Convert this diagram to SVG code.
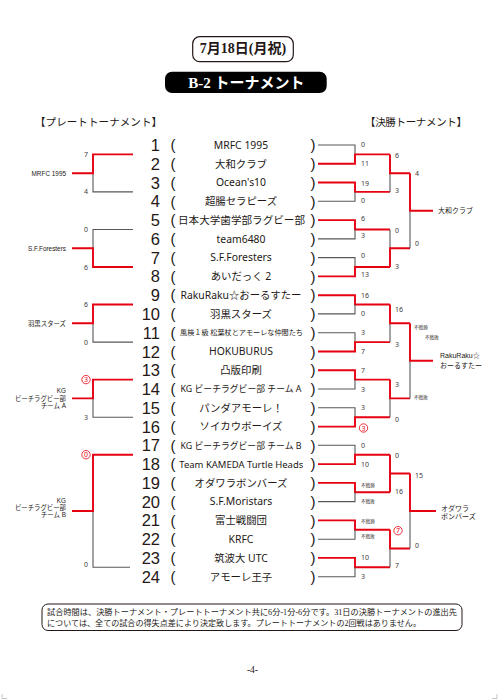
<svg xmlns="http://www.w3.org/2000/svg" width="499" height="700" viewBox="0 0 499 700">
<style>
text{font-family:"Noto Sans","Noto Sans CJK JP",sans-serif;fill:#231815}
.num{font-family:"Liberation Sans","Noto Sans",sans-serif;font-size:16.5px;text-anchor:end}
.par{font-family:"Liberation Sans","Noto Sans",sans-serif;font-size:15px;text-anchor:middle}
.nm{font-size:10.4px;text-anchor:middle}
.nm7{font-size:7px}
.nm86{font-size:8.8px}
.nm96{font-size:9.6px}
.sc{font-size:7px;fill:#3e3a39}
.scm{font-size:7px;fill:#3e3a39;text-anchor:middle}
.tiny{font-size:4.6px;fill:#3e3a39}
.lbl{font-family:"Liberation Sans","Noto Sans CJK JP",sans-serif;font-size:7px}
.lbr{font-family:"Liberation Sans","Noto Sans CJK JP",sans-serif;font-size:6.4px;text-anchor:end}
.hd{font-size:10.5px}
.serif{font-family:"Liberation Serif","Noto Sans CJK JP",serif}
.red{fill:#e60012}
.rl{fill:none;stroke:#e60012;stroke-width:1.9}
.bl{fill:none;stroke:#595757;stroke-width:1.1}
.circ{fill:none;stroke:#e60012;stroke-width:0.8}
</style>

<g id="header">
  <rect x="192.7" y="36.7" width="100.6" height="25" rx="7" fill="#fff" stroke="#231815" stroke-width="1.2"/>
  <text class="serif" x="243" y="53.3" font-size="14" font-weight="bold" text-anchor="middle">7月18日(月祝)</text>
  <rect x="165" y="71.7" width="161.7" height="21.3" rx="7" fill="#000"/>
  <text class="serif" x="246.5" y="88" font-size="15" font-weight="bold" text-anchor="middle" style="fill:#fff">B-2 トーナメント</text>
</g>

<g id="titles">
  <text class="hd" x="35" y="125.5" textLength="127">【プレートトーナメント】</text>
  <text class="hd" x="365" y="125.5" textLength="102">【決勝トーナメント】</text>
</g>

<g id="teams">
  <g id="team-1"><text class="num" x="160" y="151">1</text><text class="par" x="173" y="150.2">(</text><text class="nm" x="241" y="148.8">MRFC 1995</text><text class="par" x="313" y="150.2">)</text></g>
  <g id="team-2"><text class="num" x="160" y="169.8">2</text><text class="par" x="173" y="169">(</text><text class="nm" x="241" y="167.6">大和クラブ</text><text class="par" x="313" y="169">)</text></g>
  <g id="team-3"><text class="num" x="160" y="188.5">3</text><text class="par" x="173" y="187.7">(</text><text class="nm" x="241" y="186.3">Ocean's10</text><text class="par" x="313" y="187.7">)</text></g>
  <g id="team-4"><text class="num" x="160" y="207.3">4</text><text class="par" x="173" y="206.5">(</text><text class="nm" x="241" y="205.1">超腸セラピーズ</text><text class="par" x="313" y="206.5">)</text></g>
  <g id="team-5"><text class="num" x="160" y="226.1">5</text><text class="par" x="173" y="225.3">(</text><text class="nm" x="241.5" y="223.9" textLength="127" lengthAdjust="spacingAndGlyphs">日本大学歯学部ラグビー部</text><text class="par" x="313" y="225.3">)</text></g>
  <g id="team-6"><text class="num" x="160" y="244.9">6</text><text class="par" x="173" y="244.1">(</text><text class="nm" x="241" y="242.7">team6480</text><text class="par" x="313" y="244.1">)</text></g>
  <g id="team-7"><text class="num" x="160" y="263.6">7</text><text class="par" x="173" y="262.8">(</text><text class="nm" x="241" y="261.4">S.F.Foresters</text><text class="par" x="313" y="262.8">)</text></g>
  <g id="team-8"><text class="num" x="160" y="282.4">8</text><text class="par" x="173" y="281.6">(</text><text class="nm" x="241" y="280.2">あいだっく 2</text><text class="par" x="313" y="281.6">)</text></g>
  <g id="team-9"><text class="num" x="160" y="301.2">9</text><text class="par" x="173" y="300.4">(</text><text class="nm" x="241" y="299" textLength="121" lengthAdjust="spacingAndGlyphs">RakuRaku☆おーるすたー</text><text class="par" x="313" y="300.4">)</text></g>
  <g id="team-10"><text class="num" x="160" y="319.9">10</text><text class="par" x="173" y="319.1">(</text><text class="nm" x="241" y="317.7">羽黒スターズ</text><text class="par" x="313" y="319.1">)</text></g>
  <g id="team-11"><text class="num" x="160" y="338.7">11</text><text class="par" x="173" y="337.9">(</text><text class="nm nm7" x="241.5" y="335.3" textLength="123" lengthAdjust="spacingAndGlyphs">風検１級 松葉杖とアモーレな仲間たち</text><text class="par" x="313" y="337.9">)</text></g>
  <g id="team-12"><text class="num" x="160" y="357.5">12</text><text class="par" x="173" y="356.7">(</text><text class="nm" x="241" y="355.3">HOKUBURUS</text><text class="par" x="313" y="356.7">)</text></g>
  <g id="team-13"><text class="num" x="160" y="376.2">13</text><text class="par" x="173" y="375.4">(</text><text class="nm" x="241" y="374">凸版印刷</text><text class="par" x="313" y="375.4">)</text></g>
  <g id="team-14"><text class="num" x="160" y="395">14</text><text class="par" x="173" y="394.2">(</text><text class="nm nm86" x="241" y="392.3" textLength="121" lengthAdjust="spacingAndGlyphs">KG ビーチラグビー部 チーム A</text><text class="par" x="313" y="394.2">)</text></g>
  <g id="team-15"><text class="num" x="160" y="413.8">15</text><text class="par" x="173" y="413">(</text><text class="nm" x="241" y="411.6">パンダアモーレ！</text><text class="par" x="313" y="413">)</text></g>
  <g id="team-16"><text class="num" x="160" y="432.6">16</text><text class="par" x="173" y="431.8">(</text><text class="nm" x="241" y="430.4">ソイカウボーイズ</text><text class="par" x="313" y="431.8">)</text></g>
  <g id="team-17"><text class="num" x="160" y="451.3">17</text><text class="par" x="173" y="450.5">(</text><text class="nm nm86" x="241" y="448.6" textLength="121" lengthAdjust="spacingAndGlyphs">KG ビーチラグビー部 チーム B</text><text class="par" x="313" y="450.5">)</text></g>
  <g id="team-18"><text class="num" x="160" y="470.1">18</text><text class="par" x="173" y="469.3">(</text><text class="nm nm96" x="241.3" y="467.6" textLength="124" lengthAdjust="spacingAndGlyphs">Team KAMEDA Turtle Heads</text><text class="par" x="313" y="469.3">)</text></g>
  <g id="team-19"><text class="num" x="160" y="488.9">19</text><text class="par" x="173" y="488.1">(</text><text class="nm" x="241" y="486.7">オダワラボンバーズ</text><text class="par" x="313" y="488.1">)</text></g>
  <g id="team-20"><text class="num" x="160" y="507.6">20</text><text class="par" x="173" y="506.8">(</text><text class="nm" x="241" y="505.4">S.F.Moristars</text><text class="par" x="313" y="506.8">)</text></g>
  <g id="team-21"><text class="num" x="160" y="526.4">21</text><text class="par" x="173" y="525.6">(</text><text class="nm" x="241" y="524.2">富士戦闘団</text><text class="par" x="313" y="525.6">)</text></g>
  <g id="team-22"><text class="num" x="160" y="545.2">22</text><text class="par" x="173" y="544.4">(</text><text class="nm" x="241" y="543">KRFC</text><text class="par" x="313" y="544.4">)</text></g>
  <g id="team-23"><text class="num" x="160" y="563.9">23</text><text class="par" x="173" y="563.1">(</text><text class="nm" x="241" y="561.7">筑波大 UTC</text><text class="par" x="313" y="563.1">)</text></g>
  <g id="team-24"><text class="num" x="160" y="582.7">24</text><text class="par" x="173" y="581.9">(</text><text class="nm" x="241" y="580.5">アモーレ王子</text><text class="par" x="313" y="581.9">)</text></g>
</g>

<g id="connectors">
  <!-- final tournament, round 1 -->
  <path class="bl" d="M318,145H355V154.4"/>
  <path class="rl" d="M318,163.8H355V154.4H390"/>
  <path class="rl" d="M318,182.5H355V191.9H390"/>
  <path class="bl" d="M318,201.3H355V191.9"/>
  <path class="rl" d="M318,220.1H355V229.5H390"/>
  <path class="bl" d="M318,238.9H355V229.5"/>
  <path class="bl" d="M318,257.6H355V267"/>
  <path class="rl" d="M318,276.4H355V267H390"/>
  <path class="rl" d="M318,295.2H355V304.5H390"/>
  <path class="bl" d="M318,313.9H355V304.5"/>
  <path class="bl" d="M318,332.7H355V342.1"/>
  <path class="rl" d="M318,351.5H355V342.1H390"/>
  <path class="rl" d="M318,370.2H355V379.6H390"/>
  <path class="bl" d="M318,389H355V379.6"/>
  <path class="bl" d="M318,407.8H355V417.2"/>
  <path class="rl" d="M318,426.6H355V417.2H390"/>
  <path class="bl" d="M318,445.3H355V454.7"/>
  <path class="rl" d="M318,464.1H355V454.7H390"/>
  <path class="rl" d="M318,482.9H355V492.2H390"/>
  <path class="bl" d="M318,501.6H355V492.2"/>
  <path class="rl" d="M318,520.4H355V529.8H390"/>
  <path class="bl" d="M318,539.2H355V529.8"/>
  <path class="rl" d="M318,557.9H355V567.3H390"/>
  <path class="bl" d="M318,576.7H355V567.3"/>
  <!-- round 2 -->
  <path class="bl" d="M390,173.2V191.9"/>
  <path class="rl" d="M390,154.4V173.2H410"/>
  <path class="bl" d="M390,229.5V248.2"/>
  <path class="rl" d="M390,267V248.2H410"/>
  <path class="bl" d="M390,323.3V342.1"/>
  <path class="rl" d="M390,304.5V323.3H410"/>
  <path class="bl" d="M390,398.4V417.2"/>
  <path class="rl" d="M390,379.6V398.4H410"/>
  <path class="rl" d="M390,454.7V492.2M390,473.5H410"/>
  <path class="bl" d="M390,548.5V567.3"/>
  <path class="rl" d="M390,529.8V548.5H410"/>
  <!-- round 3 -->
  <path class="bl" d="M410,210.7V248.2"/>
  <path class="rl" d="M410,173.2V210.7H433"/>
  <path class="bl" d="M410,360.8V398.4"/>
  <path class="rl" d="M410,323.3V360.8H433"/>
  <path class="bl" d="M410,511V548.5"/>
  <path class="rl" d="M410,473.5V511H436"/>
  <!-- plate tournament -->
  <path class="bl" d="M133,191.9H93V173.2"/>
  <path class="rl" d="M133,154.4H93V173.2H72"/>
  <path class="bl" d="M133,229.5H93V248.2"/>
  <path class="rl" d="M133,267H93V248.2H72"/>
  <path class="bl" d="M133,342.1H93V323.3"/>
  <path class="rl" d="M133,304.5H93V323.3H72"/>
  <path class="bl" d="M133,417.2H93V398.4"/>
  <path class="rl" d="M133,379.6H93V398.4H72"/>
  <path class="bl" d="M130,567.3H93V511"/>
  <path class="rl" d="M133,454.7H93V511H72"/>
</g>

<g id="scores">
  <!-- plate -->
  <text class="scm" x="86" y="157">7</text>
  <text class="scm" x="86" y="194.4">4</text>
  <text class="scm" x="86" y="232">0</text>
  <text class="scm" x="86" y="269.5">6</text>
  <text class="scm" x="86" y="307">6</text>
  <text class="scm" x="86" y="344.6">0</text>
  <circle class="circ" cx="86" cy="379.6" r="4.2"/><text class="scm red" x="86" y="382.1">3</text>
  <text class="scm" x="86" y="419.7">3</text>
  <circle class="circ" cx="86" cy="454.7" r="4.2"/><text class="scm red" x="86" y="457.2">0</text>
  <text class="scm" x="86" y="566.5">0</text>
  <!-- final round 1 -->
  <text class="sc" x="361" y="147">0</text>
  <text class="sc" x="361" y="165.5">11</text>
  <text class="sc" x="361" y="185.5">19</text>
  <text class="sc" x="361" y="203.3">0</text>
  <text class="sc" x="361" y="221">6</text>
  <text class="sc" x="361" y="237.6">3</text>
  <text class="sc" x="361" y="258.3">0</text>
  <text class="sc" x="361" y="276.6">13</text>
  <text class="sc" x="361" y="297.7">16</text>
  <text class="sc" x="361" y="316.4">0</text>
  <text class="sc" x="361" y="335.2">3</text>
  <text class="sc" x="361" y="354">7</text>
  <text class="sc" x="361" y="372.7">7</text>
  <text class="sc" x="361" y="391.5">3</text>
  <text class="sc" x="361" y="410.3">3</text>
  <circle class="circ" cx="363.5" cy="428" r="4.2"/><text class="scm red" x="363.5" y="430.5">3</text>
  <text class="sc" x="361" y="447.8">0</text>
  <text class="sc" x="361" y="466.6">10</text>
  <text class="tiny" x="361" y="487.3">不戦勝</text>
  <text class="tiny" x="361" y="503.3">不戦敗</text>
  <text class="tiny" x="361" y="522.6">不戦勝</text>
  <text class="tiny" x="361" y="538.3">不戦敗</text>
  <text class="sc" x="361" y="560.3">10</text>
  <text class="sc" x="361" y="579.2">3</text>
  <!-- final round 2 -->
  <text class="sc" x="395" y="158.2">6</text>
  <text class="sc" x="395" y="193.2">3</text>
  <text class="sc" x="395" y="233.2">0</text>
  <text class="sc" x="395" y="268.5">3</text>
  <text class="sc" x="395" y="311.5">16</text>
  <text class="sc" x="395" y="346.5">3</text>
  <text class="sc" x="395" y="386.5">3</text>
  <text class="sc" x="395" y="421.5">0</text>
  <text class="sc" x="395" y="458.2">0</text>
  <text class="sc" x="395" y="493.5">16</text>
  <circle class="circ" cx="398" cy="530.7" r="4.2"/><text class="scm red" x="398" y="533.2">7</text>
  <text class="sc" x="395" y="568.2">7</text>
  <!-- final round 3 -->
  <text class="sc" x="415" y="175.5">4</text>
  <text class="sc" x="415" y="245.5">0</text>
  <text class="tiny" x="414" y="329.3">不戦勝</text>
  <text class="tiny" x="425" y="339">不戦敗</text>
  <text class="tiny" x="414" y="399.3">不戦敗</text>
  <text class="sc" x="415" y="478.2">15</text>
  <text class="sc" x="415" y="547.5">0</text>
</g>

<g id="winners">
  <g id="winner-1"><text class="lbl" x="438" y="213.2">大和クラブ</text></g>
  <g id="winner-2"><text class="lbl" x="440" y="358.3">RakuRaku☆</text><text class="lbl" x="440" y="367.8">おーるすたー</text></g>
  <g id="winner-3"><text class="lbl" x="441" y="510.8">オダワラ</text><text class="lbl" x="441" y="519.3">ボンバーズ</text></g>
  <g id="plate-1"><text class="lbr" x="66" y="175.6">MRFC 1995</text></g>
  <g id="plate-2"><text class="lbr" x="66" y="250.6">S.F.Foresters</text></g>
  <g id="plate-3"><text class="lbr" x="66" y="325.7">羽黒スターズ</text></g>
  <g id="plate-4"><text class="lbr" x="66" y="393.4">KG</text><text class="lbr" x="66" y="400.8">ビーチラグビー部</text><text class="lbr" x="66" y="408.1">チーム A</text></g>
  <g id="plate-5"><text class="lbr" x="66" y="503.1">KG</text><text class="lbr" x="66" y="510.1">ビーチラグビー部</text><text class="lbr" x="66" y="517.4">チーム B</text></g>
</g>

<g id="footer">
  <rect x="42" y="604" width="420" height="26.5" rx="6" fill="#fff" stroke="#231815" stroke-width="1"/>
  <text class="serif" x="47" y="614.8" font-size="8" textLength="410" lengthAdjust="spacingAndGlyphs">試合時間は、決勝トーナメント・プレートトーナメント共に6分-1分-6分です。31日の決勝トーナメントの進出先</text>
  <text class="serif" x="47" y="626.3" font-size="8" textLength="374" lengthAdjust="spacingAndGlyphs">については、全ての試合の得失点差により決定致します。プレートトーナメントの2回戦はありません。</text>
  <text class="serif" x="252.5" y="673" font-size="9.5" text-anchor="middle">-4-</text>
  <path d="M2,694V698.5H7M497,694V698.5H492" fill="none" stroke="#9fa0a0" stroke-width="0.6"/>
</g>
</svg>
